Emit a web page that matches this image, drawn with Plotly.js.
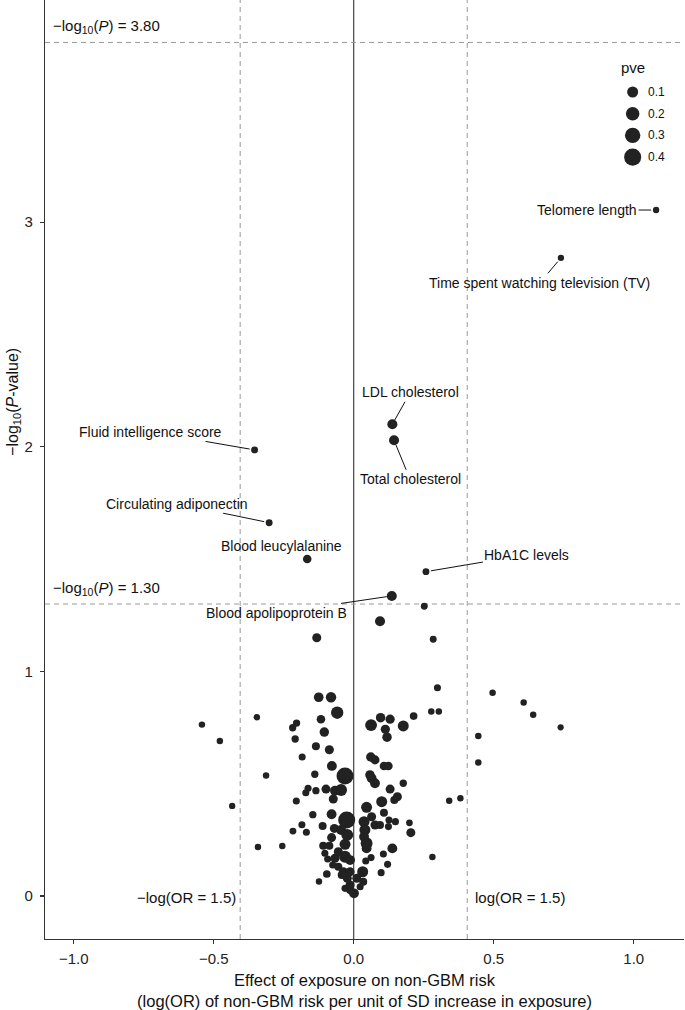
<!DOCTYPE html>
<html><head><meta charset="utf-8">
<script src="https://cdn.plot.ly/plotly-3.0.1.min.js"></script>
<style>html,body{margin:0;padding:0;background:#fff}</style>
</head><body><div id="chart" style="width:685px;height:1010px"></div>
<script>
// ---------- DATA ----------
const labelledTrait = ['Telomere length','Time spent watching television (TV)','LDL cholesterol','Total cholesterol','HbA1C levels','Blood apolipoprotein B','Fluid intelligence score','Circulating adiponectin','Blood leucylalanine'];
const labelledEffect = [1.080, 0.740, 0.138, 0.144, 0.258, 0.136, -0.354, -0.302, -0.166];
const labelledNegLog10P = [3.054, 2.841, 2.100, 2.029, 1.444, 1.336, 1.986, 1.662, 1.500];
const labelledPve = [0.005, 0.005, 0.07, 0.07, 0.01, 0.07, 0.01, 0.01, 0.035];

const effect = [0.252,0.094,0.284,-0.132,-0.125,-0.081,-0.059,-0.346,-0.204,-0.218,-0.117,-0.105,-0.209,-0.135,-0.087,-0.184,-0.078,-0.139,-0.031,-0.313,
0.299,0.277,0.304,0.214,0.096,0.130,0.062,0.177,0.113,0.119,0.061,0.076,0.108,0.124,0.058,0.496,0.607,0.641,0.739,0.445,
0.445,0.341,0.381,-0.542,-0.478,-0.434,-0.342,-0.255,-0.124,-0.205,-0.146,-0.185,-0.217,-0.169,-0.096,-0.111,-0.163,-0.135,-0.171,0.064,
0.076,0.177,-0.099,-0.067,-0.045,-0.073,0.130,0.156,0.145,0.100,0.046,-0.079,-0.025,0.108,0.064,0.037,0.126,0.149,0.199,0.204,
-0.069,-0.045,-0.023,0.040,0.076,0.094,0.124,0.037,0.046,-0.079,-0.087,-0.109,-0.031,-0.055,-0.103,-0.093,-0.067,-0.031,-0.013,0.046,
0.138,0.106,0.062,0.043,0.121,0.281,-0.075,-0.055,-0.037,-0.013,0.032,-0.043,0.098,-0.023,0.011,0.034,-0.013,-0.031,0.023,0.001,-0.013];
const negLog10P = [1.290,1.223,1.143,1.150,0.885,0.885,0.816,0.796,0.770,0.749,0.787,0.730,0.699,0.667,0.651,0.619,0.579,0.542,0.534,0.536,
0.927,0.821,0.821,0.801,0.794,0.787,0.761,0.757,0.742,0.707,0.619,0.606,0.579,0.579,0.539,0.905,0.862,0.807,0.751,0.712,
0.594,0.424,0.435,0.763,0.690,0.401,0.218,0.223,0.065,0.423,0.362,0.317,0.289,0.284,0.098,0.312,0.480,0.469,0.460,0.524,
0.502,0.502,0.476,0.469,0.472,0.432,0.476,0.442,0.427,0.420,0.395,0.364,0.338,0.371,0.353,0.331,0.338,0.331,0.326,0.282,
0.301,0.294,0.272,0.294,0.316,0.316,0.309,0.264,0.235,0.260,0.224,0.224,0.230,0.197,0.190,0.165,0.168,0.175,0.160,0.212,
0.212,0.187,0.171,0.156,0.141,0.174,0.138,0.130,0.108,0.108,0.108,0.093,0.104,0.079,0.079,0.064,0.049,0.034,0.041,0.012,0.027];
const pve = [0.01,0.07,0.01,0.045,0.06,0.08,0.15,0.006,0.015,0.015,0.035,0.055,0.015,0.025,0.045,0.012,0.065,0.015,0.40,0.006,
0.012,0.006,0.006,0.02,0.055,0.05,0.13,0.10,0.05,0.055,0.055,0.045,0.035,0.035,0.055,0.006,0.006,0.006,0.004,0.006,
0.006,0.006,0.006,0.006,0.006,0.005,0.006,0.006,0.006,0.012,0.015,0.012,0.01,0.012,0.02,0.025,0.012,0.015,0.012,0.065,
0.065,0.015,0.045,0.065,0.13,0.045,0.045,0.045,0.025,0.10,0.10,0.065,0.40,0.025,0.045,0.10,0.012,0.012,0.008,0.045,
0.045,0.065,0.13,0.10,0.045,0.025,0.012,0.065,0.13,0.045,0.025,0.025,0.10,0.045,0.012,0.012,0.045,0.13,0.065,0.065,
0.065,0.012,0.012,0.012,0.012,0.006,0.012,0.025,0.045,0.045,0.10,0.025,0.012,0.045,0.045,0.025,0.045,0.012,0.012,0.065,0.025];

const legendPve = [0.1, 0.2, 0.3, 0.4];
const OR_THRESHOLD = 1.5;
const P_THRESHOLDS = [1.30, 3.80];

// ---------- STYLE ----------
const FONT = 'Liberation Sans, Arial, Helvetica, sans-serif';
const DOT = '#222222';
const sizeFn = v => 5 + 19 * Math.sqrt(v);
// label offsets (px) of label centre relative to its point
const labelOffset = {
  'Telomere length': {ax: -69, ay: 0},
  'Time spent watching television (TV)': {ax: -21, ay: 25},
  'LDL cholesterol': {ax: 18, ay: -32},
  'Total cholesterol': {ax: 16, ay: 39},
  'HbA1C levels': {ax: 101, ay: -17},
  'Blood apolipoprotein B': {ax: -115, ay: 17},
  'Fluid intelligence score': {ax: -104, ay: -18},
  'Circulating adiponectin': {ax: -92, ay: -19},
  'Blood leucylalanine': {noArrow: true, xshift: -26, yshift: 13}
};

const allX = labelledEffect.concat(effect);
const allY = labelledNegLog10P.concat(negLog10P);
const allPve = labelledPve.concat(pve);

const traces = [{
  type: 'scatter', mode: 'markers', x: allX, y: allY,
  marker: {color: DOT, opacity: 1, size: allPve.map(sizeFn), line: {width: 0}},
  hoverinfo: 'x+y', showlegend: false
}, {
  type: 'scatter', mode: 'markers', xaxis: 'x2', yaxis: 'y2',
  x: legendPve.map(() => 0), y: legendPve.map((v, i) => i),
  marker: {color: DOT, opacity: 1, size: legendPve.map(sizeFn), line: {width: 0}},
  hoverinfo: 'skip', showlegend: false
}];

const lnOR = Math.log(OR_THRESHOLD);
const dashLine = {color: '#9a9a9a', width: 1, dash: '5px,4px'};
const shapes = [
  {type: 'line', xref: 'x', yref: 'paper', x0: 0, x1: 0, y0: 0, y1: 1, line: {color: '#333', width: 1.1}, layer: 'below'},
  {type: 'line', xref: 'x', yref: 'paper', x0: -lnOR, x1: -lnOR, y0: 0, y1: 1, line: dashLine, layer: 'below'},
  {type: 'line', xref: 'x', yref: 'paper', x0: lnOR, x1: lnOR, y0: 0, y1: 1, line: dashLine, layer: 'below'}
].concat(P_THRESHOLDS.map(p => ({type: 'line', xref: 'paper', yref: 'y', x0: 0, x1: 1, y0: p, y1: p, line: dashLine, layer: 'below'})));

const annFont = {family: FONT, size: 14, color: '#111'};
const annotations = [];
labelledTrait.forEach((name, i) => {
  const o = labelOffset[name];
  if (o.noArrow) {
    annotations.push({x: labelledEffect[i], y: labelledNegLog10P[i], xref: 'x', yref: 'y', text: name, showarrow: false,
      xshift: o.xshift, yshift: o.yshift, font: annFont});
  } else {
    annotations.push({x: labelledEffect[i], y: labelledNegLog10P[i], xref: 'x', yref: 'y', text: name, showarrow: true,
      ax: o.ax, ay: o.ay, arrowhead: 0, arrowwidth: 1, arrowcolor: '#111', standoff: 5, font: annFont});
  }
});
// threshold labels
const thrFont = {family: FONT, size: 15, color: '#111'};
P_THRESHOLDS.forEach(p => {
  annotations.push({xref: 'paper', yref: 'y', x: 0, y: p, xanchor: 'left', yanchor: 'bottom', xshift: 6, yshift: 4,
    text: '−log<sub>10</sub>(<i>P</i>) = ' + p.toFixed(2), showarrow: false, font: thrFont});
});
annotations.push({xref: 'x', yref: 'y', x: -lnOR, y: 0, xanchor: 'right', yanchor: 'middle', xshift: -2, yshift: -1,
  text: '−log(OR = ' + OR_THRESHOLD + ')', showarrow: false, font: thrFont});
annotations.push({xref: 'x', yref: 'y', x: lnOR, y: 0, xanchor: 'left', yanchor: 'middle', xshift: 6, yshift: -1,
  text: 'log(OR = ' + OR_THRESHOLD + ')', showarrow: false, font: thrFont});
// y axis title
annotations.push({xref: 'paper', yref: 'paper', x: 0, y: 0.572, xanchor: 'center', yanchor: 'middle', xshift: -31, textangle: -90, showarrow: false,
  text: '−log<sub>10</sub>(<i>P</i>-value)', font: {family: FONT, size: 16, color: '#111'}});
// legend texts (anchored inside the legend axes, shifted in px)
annotations.push({xref: 'x2', yref: 'y2', x: 0, y: 0, yshift: 24, text: 'pve', showarrow: false, xanchor: 'center', yanchor: 'middle',
  font: {family: FONT, size: 15, color: '#111'}});
legendPve.forEach((v, i) => annotations.push({xref: 'x2', yref: 'y2', x: 0, y: i, xanchor: 'left', yanchor: 'middle', xshift: 13,
  text: v.toFixed(1), showarrow: false, font: {family: FONT, size: 12, color: '#111'}}));

const axisCommon = {showgrid: false, zeroline: false, showline: true, linecolor: '#333', linewidth: 1.1,
  ticks: 'outside', ticklen: 4, tickwidth: 1.1, tickcolor: '#333',
  tickfont: {family: FONT, size: 15, color: '#222'}};

const layout = {
  width: 685, height: 1010, margin: {l: 45, r: 1, t: 0, b: 71},
  paper_bgcolor: '#fff', plot_bgcolor: '#fff', showlegend: false,
  font: {family: FONT},
  xaxis: Object.assign({}, axisCommon, {range: [-1.1025, 1.1796], tickvals: [-1, -0.5, 0, 0.5, 1], tickformat: '.1f',
    ticklabelstandoff: 2,
    title: {text: 'Effect of exposure on non-GBM risk<br>(log(OR) of non-GBM risk per unit of SD increase in exposure)',
      font: {family: FONT, size: 16.5, color: '#111'}, standoff: 8}}),
  yaxis: Object.assign({}, axisCommon, {range: [-0.1914, 3.989], tickvals: [0, 1, 2, 3], tickformat: 'd', ticklabelstandoff: 4}),
  xaxis2: {domain: [0.904, 0.9353], range: [-1, 1], visible: false, anchor: 'y2', fixedrange: true},
  yaxis2: {domain: [0.8211, 0.9136], range: [3.5, -0.5], visible: false, anchor: 'x2', fixedrange: true},
  shapes: shapes, annotations: annotations
};

Plotly.newPlot('chart', traces, layout, {displayModeBar: false, staticPlot: true});
</script>
</body></html>
